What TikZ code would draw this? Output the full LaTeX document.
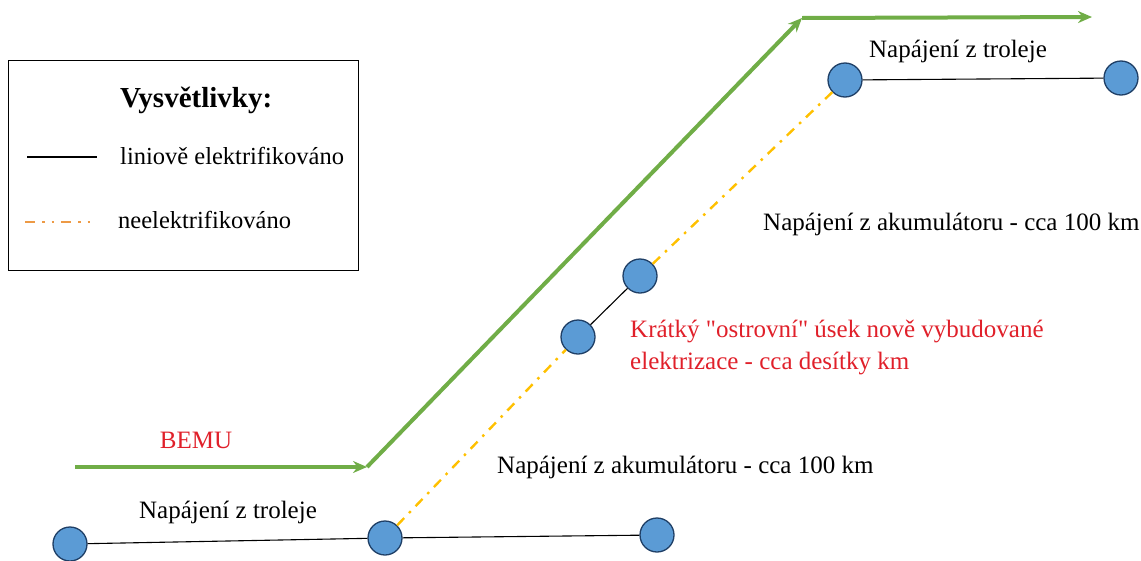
\documentclass[tikz,border=0pt]{standalone}
\usepackage{fontspec}
\setmainfont{Liberation Serif}
\newfontfamily\plainquotes{Liberation Serif}[Ligatures=TeXOff]
\usetikzlibrary{arrows.meta}
\definecolor{nodeblue}{HTML}{5B9BD5}
\definecolor{nodeedge}{HTML}{1F3F66}
\definecolor{arrowgreen}{HTML}{70AD47}
\definecolor{dashyellow}{HTML}{FFC000}
\definecolor{legorange}{HTML}{ED9A45}
\definecolor{labelred}{HTML}{E0202A}
\tikzset{
  station/.style={circle, draw=nodeedge, fill=nodeblue, line width=1.3pt, minimum size=34pt, inner sep=0pt},
  wire/.style={draw=black, line width=1.1pt},
  nowire/.style={draw=dashyellow, line width=2.4pt, dash pattern=on 10pt off 7pt on 2.5pt off 7pt},
  route/.style={draw=arrowgreen, line width=4pt, -{Stealth[length=14pt,width=12pt]}},
  lbl/.style={font=\fontsize{25}{26}\selectfont, inner sep=0pt},
  redlbl/.style={lbl, text=labelred}
}
\begin{document}
\begin{tikzpicture}[x=1pt,y=-1pt]
\useasboundingbox (0,0) rectangle (1141,560);
% legend
\node[draw=black, line width=1.2pt, minimum width=350pt, minimum height=210pt, anchor=north west, inner sep=0pt] (legend) at (8,60) {};
\node[font=\bfseries\fontsize{29}{32}\selectfont, inner sep=0pt, anchor=west] (legtitle) at (120,100) {Vysvětlivky:};
\coordinate (l1a) at (27,157); \coordinate (l1b) at (97,157);
\draw[wire] (l1a) -- (l1b);
\node[lbl, anchor=west, font=\fontsize{24.5}{26}\selectfont] (l1t) at (120,156) {liniově elektrifikováno};
\coordinate (l2a) at (25,222); \coordinate (l2b) at (97,222);
\draw[draw=legorange, line width=2.2pt, dash pattern=on 10pt off 7pt on 2.5pt off 7pt on 2.5pt off 7pt] (l2a) -- (l2b);
\node[lbl, anchor=west, font=\fontsize{24.5}{26}\selectfont] (l2t) at (118,220) {neelektrifikováno};

% green route
\coordinate (g0) at (75,467);
\coordinate (g1) at (367,467);
\coordinate (g2) at (802,18);
\coordinate (g3) at (1092,17);
\draw[route] (g0) -- (g1);
\draw[route] (g1) -- (g2);
\draw[route] (g2) -- (g3);

% stations
\node[station] (A) at (70,544) {};
\node[station] (B) at (385,538) {};
\node[station] (C) at (657,535) {};
\node[station] (D) at (578,337) {};
\node[station] (E) at (640,276) {};
\node[station] (F) at (845,80) {};
\node[station] (G) at (1121,78) {};
\draw[nowire] (B) -- (D);
\draw[nowire] (E) -- (F);
\draw[wire] (A) -- (B);
\draw[wire] (B) -- (C);
\draw[wire] (D) -- (E);
\draw[wire] (F) -- (G);

% labels
\node[lbl] (t1) at (958,51) {Napájení z troleje};
\node[lbl, anchor=west] (t2) at (763,224) {Napájení z akumulátoru - cca 100 km};
\node[redlbl, anchor=west, align=left, font=\fontsize{25}{32}\selectfont\plainquotes] (t3) at (630,347) {Krátký "ostrovní" úsek nově vybudované\\elektrizace - cca desítky km};
\node[redlbl] (t4) at (196,440) {BEMU};
\node[lbl, anchor=west] (t5) at (497,467) {Napájení z akumulátoru - cca 100 km};
\node[lbl] (t6) at (228,512) {Napájení z troleje};
\end{tikzpicture}
\end{document}
